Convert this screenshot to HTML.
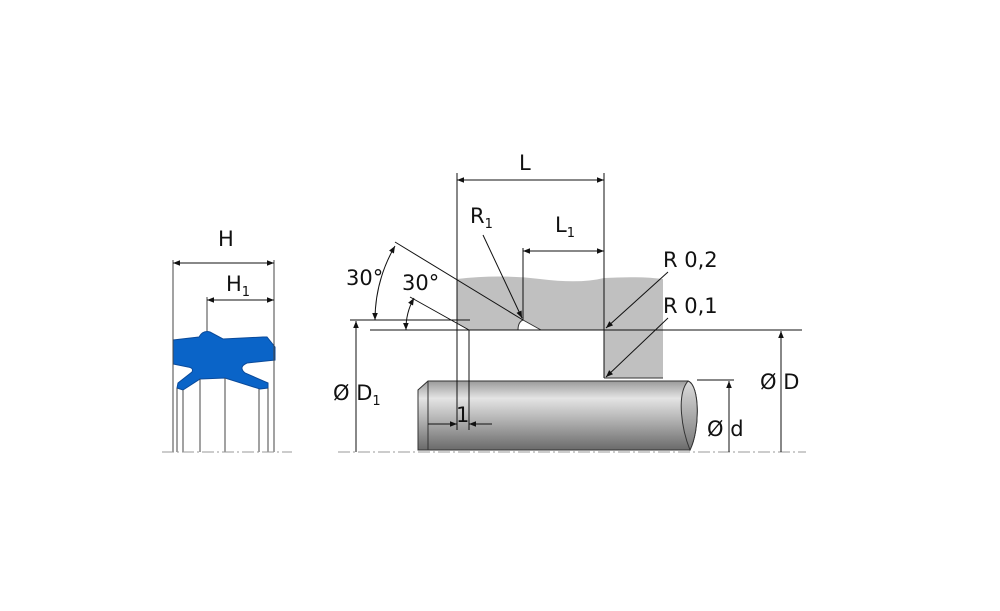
<!DOCTYPE html>
<html><head><meta charset="utf-8"><style>html,body{margin:0;padding:0;background:#fff}svg{display:block}text{font-family:"DejaVu Sans","Liberation Sans",sans-serif;fill:#111}</style></head><body>
<svg width="1000" height="611" viewBox="0 0 1000 611" xmlns="http://www.w3.org/2000/svg">
<defs>
<linearGradient id="sg" x1="0" y1="0" x2="0" y2="1"><stop offset="0" stop-color="#9a9a9a"/><stop offset="0.25" stop-color="#e4e4e4"/><stop offset="0.5" stop-color="#bdbdbd"/><stop offset="1" stop-color="#6a6a6a"/></linearGradient>
<linearGradient id="eg" x1="0" y1="0" x2="0" y2="1"><stop offset="0" stop-color="#ddd"/><stop offset="1" stop-color="#777"/></linearGradient>
<marker id="a" viewBox="0 0 10 10" refX="10" refY="5" markerWidth="9" markerHeight="7" orient="auto-start-reverse" markerUnits="userSpaceOnUse"><path d="M0,1 L10,5 L0,9 Z" fill="#111"/></marker>
</defs>
<g stroke="#111" stroke-width="1" fill="none">
<!-- seal -->
<path d="M173,340 L199,337 Q203,330 210,332 L223,339 L263,337 L267,337 L275,347 L275,360 L247,363 Q238,367 245,373 L268,383 L268,388 L260,389 L225,378 L200,379 L183,390 L177,388 L178,383 L192,372 Q194,368 188,367 L173,364 Z" fill="#0a64c8" stroke="#0a4a9a"/>
<path d="M173,260V452M274,260V452M177,388V452M183,390V452M200,379V452M225,378V452M259,389V452M268,388V452M207,297V331" stroke="#444"/>
<line x1="173" y1="263" x2="274" y2="263" marker-start="url(#a)" marker-end="url(#a)"/>
<line x1="207" y1="300" x2="274" y2="300" marker-end="url(#a)" marker-start="url(#a)"/>
<line x1="162" y1="452" x2="292" y2="452" stroke="#999" stroke-dasharray="12,3,2,3"/>
<line x1="338" y1="452" x2="806" y2="452" stroke="#999" stroke-dasharray="12,3,2,3"/>
<!-- housing -->
<path d="M457,279 Q500,274 540,279 T604,278 Q640,276 663,279 L663,378 L604,378 L604,330 L541,330 L523,320 Q518,322 518,330 L469,330 L457,323 Z" fill="#c0c0c0" stroke="none"/>
<path d="M604,378 H663 M518,330 H469 M541,330 L523,320 Q518,322 518,330" stroke="#333"/>
<!-- shaft -->
<path d="M428,381 L688,381 C700,385 700,430 690,450 L418,450 L418,390 Z" fill="url(#sg)" stroke="#333"/>
<path d="M688,381 C700,385 700,430 690,450 C682,430 676,395 688,381Z" fill="url(#eg)" stroke="#333"/>
<line x1="428" y1="381" x2="428" y2="450" stroke="#333"/>
<!-- lines -->
<path d="M457,173V430M469,330V430M604,173V330M604,330V378M523,248V320M350,320H470M370,330H802M697,380H734M410,297L469,330M395,242L523,320"/>
<line x1="457" y1="180" x2="604" y2="180" marker-start="url(#a)" marker-end="url(#a)"/>
<line x1="523" y1="251" x2="604" y2="251" marker-start="url(#a)" marker-end="url(#a)"/>
<line x1="483" y1="235" x2="522" y2="318" marker-end="url(#a)"/>
<line x1="668" y1="272" x2="606" y2="328" marker-end="url(#a)"/>
<line x1="668" y1="318" x2="606" y2="377" marker-end="url(#a)"/>
<line x1="781" y1="452" x2="781" y2="331" marker-end="url(#a)"/>
<line x1="729" y1="452" x2="729" y2="381" marker-end="url(#a)"/>
<line x1="356" y1="452" x2="356" y2="321" marker-end="url(#a)"/>
<line x1="428" y1="424" x2="457" y2="424" marker-end="url(#a)"/>
<line x1="492" y1="424" x2="469" y2="424" marker-end="url(#a)"/>
<path d="M375,320 A148,148 0 0 1 395,246" marker-start="url(#a)" marker-end="url(#a)"/>
<path d="M406,330 A63,63 0 0 1 414,298" marker-start="url(#a)" marker-end="url(#a)"/>
</g>
<g font-size="21">
<text x="218" y="246">H</text>
<text x="226" y="291">H<tspan font-size="13" dy="5">1</tspan></text>
<text x="519" y="170">L</text>
<text x="470" y="223">R<tspan font-size="13" dy="5">1</tspan></text>
<text x="555" y="232">L<tspan font-size="13" dy="5">1</tspan></text>
<text x="346" y="285">30°</text>
<text x="402" y="290">30°</text>
<text x="663" y="267">R 0,2</text>
<text x="663" y="313">R 0,1</text>
<text x="333" y="400">Ø D<tspan font-size="13" dy="5">1</tspan></text>
<text x="760" y="389">Ø D</text>
<text x="707" y="436">Ø d</text>
<text x="456" y="422">1</text>
</g>
</svg>
</body></html>
